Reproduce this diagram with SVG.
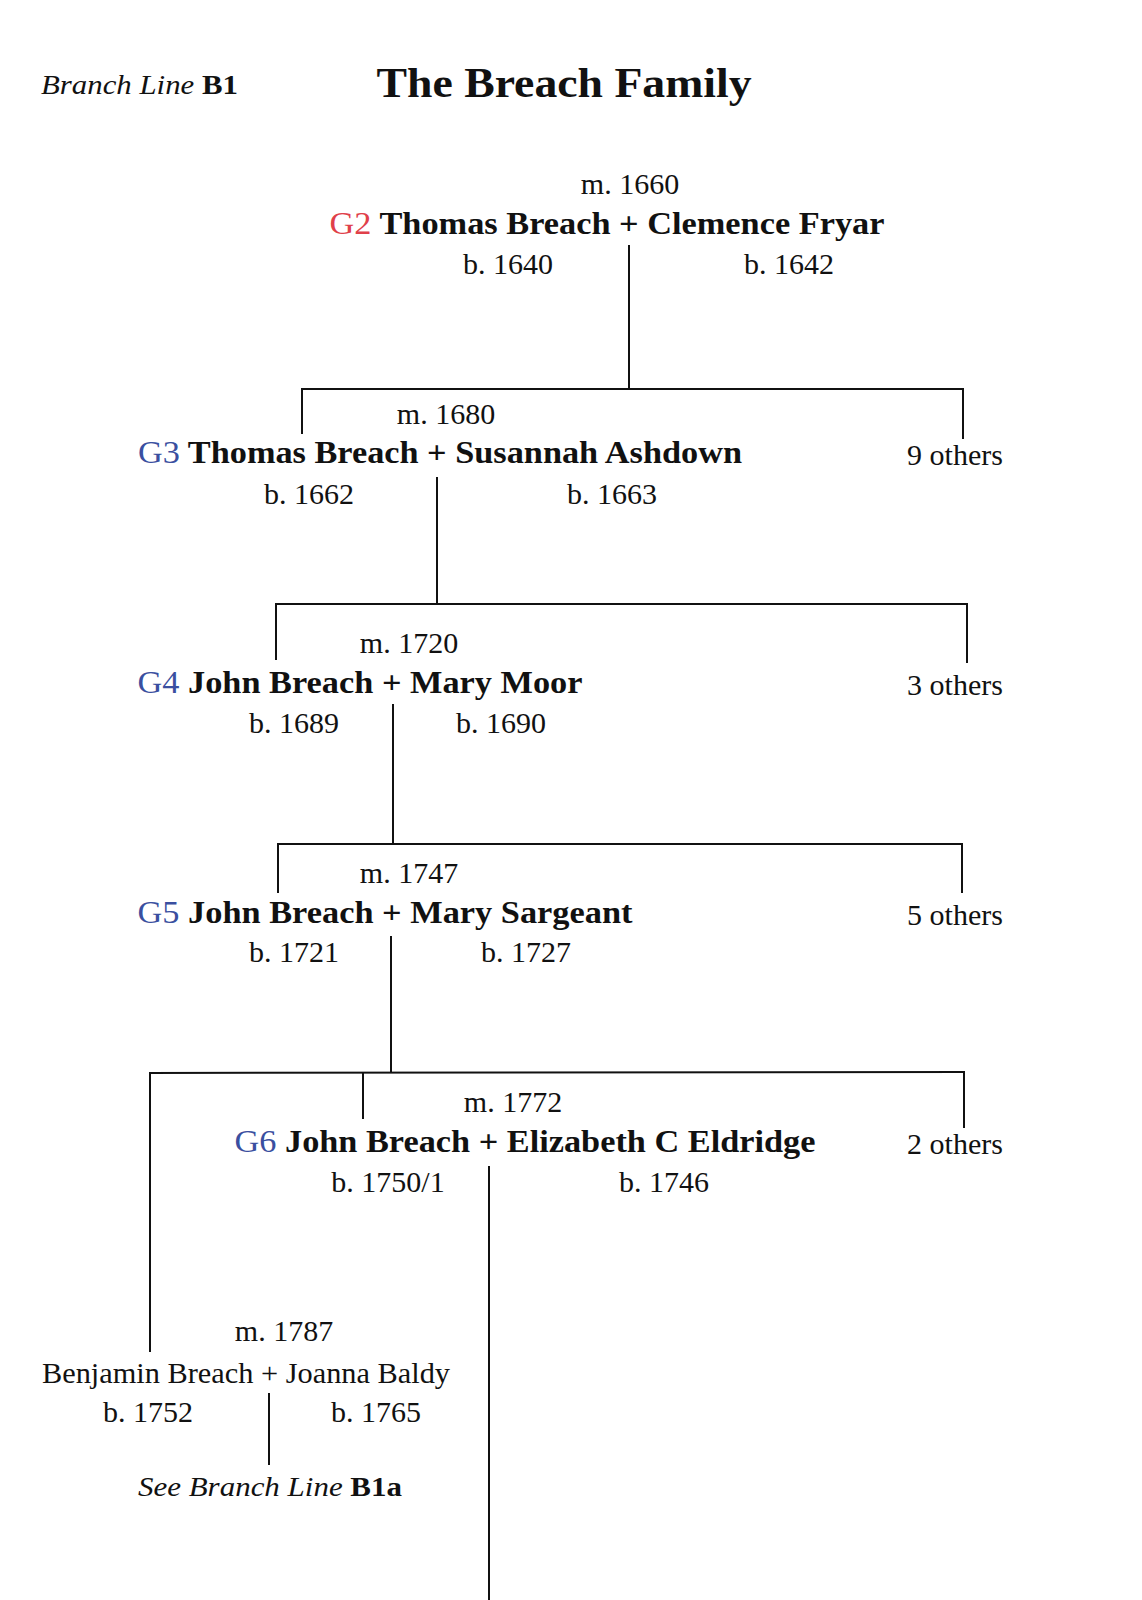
<svg xmlns="http://www.w3.org/2000/svg" width="1142" height="1600" viewBox="0 0 1142 1600">
<style>
text{font-family:"Liberation Serif","Times New Roman",serif;fill:#111;text-anchor:middle}
.n{font-size:32px;font-weight:bold}
.s{font-size:30px}
.o{font-size:30px}
.r{fill:#e0404a;font-weight:normal}
.b{fill:#3a4fa0;font-weight:normal}
line{stroke:#111;stroke-width:2}
</style>
<rect width="1142" height="1600" fill="#fff"/>
<text x="41" y="94" style="text-anchor:start;font-size:27px;font-style:italic" textLength="197" lengthAdjust="spacingAndGlyphs">Branch Line  <tspan font-weight="bold" font-style="normal">B1</tspan></text>
<text x="564" y="97" style="font-size:42px;font-weight:bold" textLength="375" lengthAdjust="spacingAndGlyphs">The Breach Family</text>
<g id="connectors">
<line x1="629" y1="245" x2="629" y2="389"/>
<line x1="302" y1="389" x2="963" y2="389"/>
<line x1="302" y1="388" x2="302" y2="434"/>
<line x1="963" y1="388" x2="963" y2="439"/>
<line x1="437" y1="477" x2="437" y2="604"/>
<line x1="276" y1="604" x2="967" y2="604"/>
<line x1="276" y1="603" x2="276" y2="660"/>
<line x1="967" y1="603" x2="967" y2="663"/>
<line x1="393" y1="704" x2="393" y2="844"/>
<line x1="278" y1="844" x2="962" y2="844"/>
<line x1="278" y1="843" x2="278" y2="893"/>
<line x1="962" y1="843" x2="962" y2="893"/>
<line x1="391" y1="936" x2="391" y2="1073"/>
<line x1="150" y1="1073" x2="964" y2="1072"/>
<line x1="363" y1="1072" x2="363" y2="1119"/>
<line x1="964" y1="1071" x2="964" y2="1128"/>
<line x1="150" y1="1072" x2="150" y2="1352"/>
<line x1="489" y1="1166" x2="489" y2="1600"/>
<line x1="269" y1="1393" x2="269" y2="1465"/>
</g>
<g id="g2">
<text class="s" x="630" y="194">m. 1660</text>
<text class="n" x="607" y="234" textLength="555" lengthAdjust="spacingAndGlyphs"><tspan class="r">G2</tspan> Thomas Breach + Clemence Fryar</text>
<text class="s" x="508" y="274">b. 1640</text>
<text class="s" x="789" y="274">b. 1642</text>
</g>
<g id="g3">
<text class="s" x="446" y="424">m. 1680</text>
<text class="n" x="440" y="463" textLength="604" lengthAdjust="spacingAndGlyphs"><tspan class="b">G3</tspan> Thomas Breach + Susannah Ashdown</text>
<text class="s" x="309" y="504">b. 1662</text>
<text class="s" x="612" y="504">b. 1663</text>
<text class="o" x="955" y="465">9 others</text>
</g>
<g id="g4">
<text class="s" x="409" y="653">m. 1720</text>
<text class="n" x="360" y="693" textLength="445" lengthAdjust="spacingAndGlyphs"><tspan class="b">G4</tspan> John Breach + Mary Moor</text>
<text class="s" x="294" y="733">b. 1689</text>
<text class="s" x="501" y="733">b. 1690</text>
<text class="o" x="955" y="695">3 others</text>
</g>
<g id="g5">
<text class="s" x="409" y="883">m. 1747</text>
<text class="n" x="385" y="923" textLength="495" lengthAdjust="spacingAndGlyphs"><tspan class="b">G5</tspan> John Breach + Mary Sargeant</text>
<text class="s" x="294" y="962">b. 1721</text>
<text class="s" x="526" y="962">b. 1727</text>
<text class="o" x="955" y="925">5 others</text>
</g>
<g id="g6">
<text class="s" x="513" y="1112">m. 1772</text>
<text class="n" x="525" y="1152" textLength="581" lengthAdjust="spacingAndGlyphs"><tspan class="b">G6</tspan> John Breach + Elizabeth C Eldridge</text>
<text class="s" x="388" y="1192">b. 1750/1</text>
<text class="s" x="664" y="1192">b. 1746</text>
<text class="o" x="955" y="1154">2 others</text>
</g>
<g id="benjamin">
<text class="s" x="284" y="1341">m. 1787</text>
<text class="s" x="246" y="1383" textLength="408" lengthAdjust="spacingAndGlyphs">Benjamin Breach + Joanna Baldy</text>
<text class="s" x="148" y="1422">b. 1752</text>
<text class="s" x="376" y="1422">b. 1765</text>
<text x="270" y="1496" style="font-size:28px;font-style:italic" textLength="264" lengthAdjust="spacingAndGlyphs">See Branch Line  <tspan font-weight="bold" font-style="normal">B1a</tspan></text>
</g>
</svg>
